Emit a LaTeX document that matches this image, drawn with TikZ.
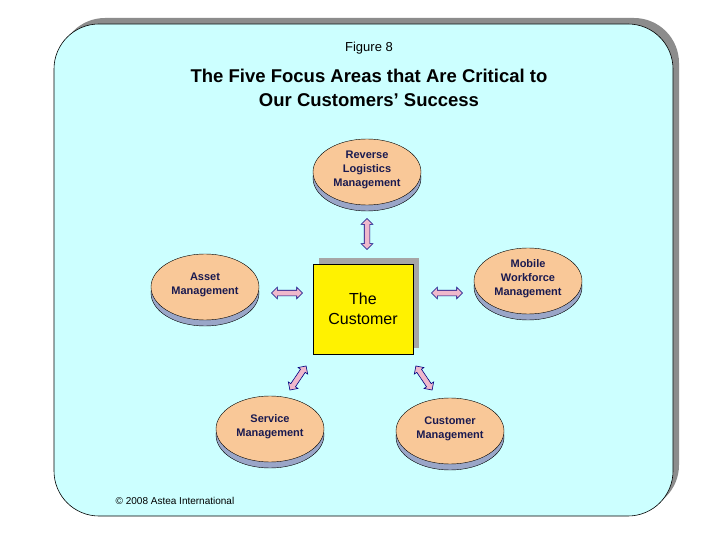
\documentclass[tikz,border=0pt]{standalone}
\usepackage{fontspec}
\setmainfont{Liberation Sans}
\usetikzlibrary{shapes.arrows}
\definecolor{panel}{HTML}{CCFFFF}
\definecolor{peach}{HTML}{F9C898}
\definecolor{under}{HTML}{9AA6C8}
\definecolor{pinkf}{HTML}{EFB8CC}
\definecolor{navy}{HTML}{1A1A50}
\begin{document}
\begin{tikzpicture}[x=1pt,y=-1pt,
  ell/.style={font=\fontsize{11}{14}\selectfont\bfseries, text=navy, align=center, inner sep=0},
  darr/.style={double arrow, draw=blue!50!black, fill=pinkf, line width=0.6pt, minimum height=31pt, double arrow head extend=3pt, inner xsep=0pt, inner ysep=2.5pt, minimum width=0pt}]
\useasboundingbox (0,0) rectangle (720,540);
\fill[white] (0,0) rectangle (720,540);
\fill[gray!90] (60,18) [rounded corners=45pt] rectangle (679,510);
\draw[fill=panel,line width=0.6pt, rounded corners=45pt] (54,24) rectangle (673,516);
\node (fig) at (369,48) [font=\fontsize{13}{16}\selectfont] {Figure 8};
\node (title) [align=center, font=\fontsize{18.5}{24}\selectfont\bfseries] at (369,88) {The Five Focus Areas that Are Critical to\\ Our Customers' Success};
\foreach \n/\x/\y/\t in {rl/367/172/{Reverse\\Logistics\\Management}, am/205/287/{Asset\\Management}, mw/528/281/{Mobile\\Workforce\\Management}, sm/270/429/{Service\\Management}, cm/450/431/{Customer\\Management}}{
  \fill[under, draw=black, line width=0.4pt] (\x,\y+6) ellipse (54 and 33);
  \fill[peach, draw=black, line width=0.4pt] (\x,\y) ellipse (54 and 33);
  \node[ell] (\n) at (\x,\y-2) {\t};
}
\fill[gray!70] (319,258) rectangle (419,348);
\node (cust) [draw=black, fill=yellow, minimum width=100pt, minimum height=90pt, align=center, font=\fontsize{16}{20}\selectfont] at (363,309) {The\\Customer};
\node[darr, rotate=90] (a1) at (367,234) {};
\node[darr] (a2) at (287,293) {};
\node[darr] (a3) at (447,293) {};
\node[darr, rotate=56, minimum height=29pt] (a4) at (298,378) {};
\node[darr, rotate=124, minimum height=29pt] (a5) at (424,378) {};
\node (copy) at (175,501) [font=\fontsize{10}{12}\selectfont] {© 2008 Astea International};
\end{tikzpicture}
\end{document}
